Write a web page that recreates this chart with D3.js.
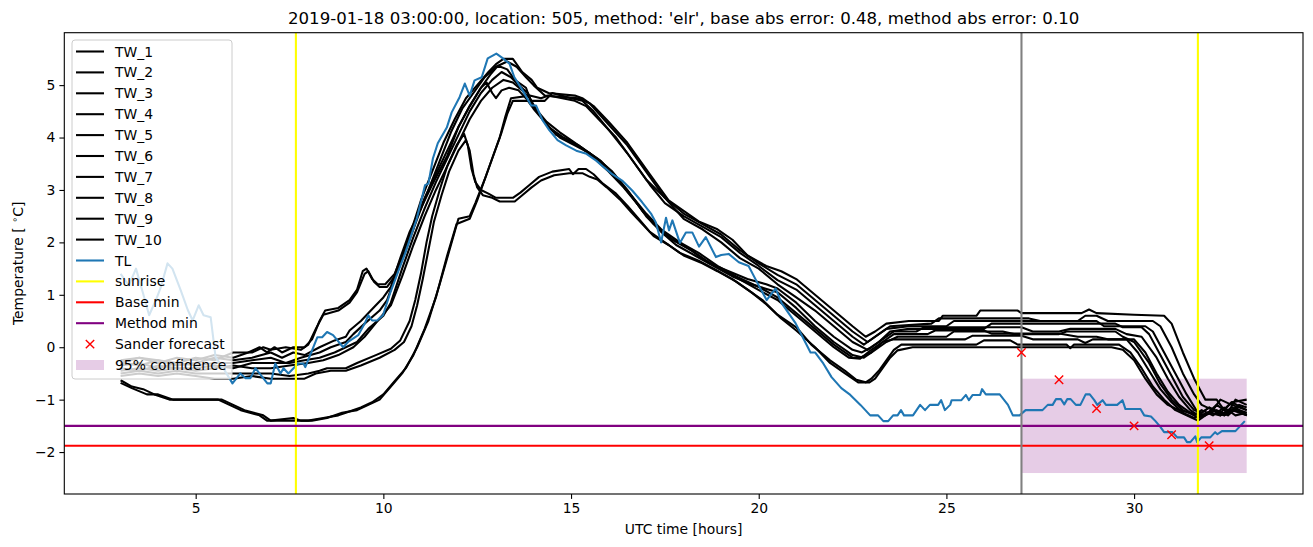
<!DOCTYPE html>
<html><head><meta charset="utf-8">
<script src="https://cdn.jsdelivr.net/npm/d3@7"></script>
<style>body{margin:0;background:#fff}svg{display:block}text{font-family:"DejaVu Sans",sans-serif}</style>
</head><body>
<svg id="c" width="1313" height="547"></svg>
<script>
const titleText = "2019-01-18 03:00:00, location: 505, method: 'elr', base abs error: 0.48, method abs error: 0.10";
const xTicks = [5,10,15,20,25,30];
const yTicks = [-2,-1,0,1,2,3,4,5];
const seriesNames = ["TW_1","TW_2","TW_3","TW_4","TW_5","TW_6","TW_7","TW_8","TW_9","TW_10"];

const tw1 = [[3,-0.25],[3.5,-0.2],[4,-0.3],[4.5,-0.2],[5,-0.25],[5.5,-0.15],[6,-0.2],[6.4,-0.1],[6.7,0.0],[6.9,-0.1],[7.1,0.0],[7.3,-0.1],[7.6,0.0],[7.9,0.0],[8.1,0.15],[8.3,0.5],[8.45,0.7],[8.8,0.75],[9.1,0.9],[9.3,1.1],[9.45,1.45],[9.55,1.5],[9.7,1.3],[9.85,1.2],[10.05,1.2],[10.3,1.4],[10.5,1.75],[10.8,2.35],[11.0,2.8],[11.3,3.35],[11.6,3.9],[11.9,4.35],[12.2,4.75],[12.5,5.0],[12.8,5.25],[13.0,5.4],[13.2,5.5],[13.45,5.5],[13.7,5.25],[13.95,5.1],[14.1,4.95],[14.4,4.85],[15.1,4.8],[15.3,4.75],[15.6,4.6],[16.0,4.3],[16.5,3.9],[17.1,3.3],[17.6,2.8],[18.0,2.6],[18.4,2.4],[18.9,2.25],[19.3,2.05],[19.7,1.75],[20.2,1.55],[20.6,1.45],[21.0,1.3],[21.5,1.0],[22.0,0.7],[22.5,0.4],[22.85,0.2],[23.1,0.3],[23.4,0.45],[24.0,0.5],[24.8,0.5],[24.9,0.6],[25.8,0.6],[25.9,0.7],[26.9,0.7],[27.0,0.65],[28.6,0.65],[28.8,0.72],[29.0,0.65],[30.0,0.62],[30.8,0.6],[31.0,0.45],[31.3,-0.1],[31.6,-0.6],[31.9,-1.0],[32.2,-1.0],[32.4,-1.2],[32.6,-1.05],[33.0,-1.0]];
const tw2 = [[3,-0.3],[3.5,-0.35],[4,-0.25],[4.5,-0.3],[5,-0.2],[5.5,-0.25],[6,-0.1],[6.5,-0.1],[6.8,0.0],[7.0,-0.05],[7.4,0.0],[7.8,-0.05],[8.0,0.05],[8.2,0.35],[8.4,0.62],[8.8,0.7],[9.1,0.85],[9.3,1.05],[9.5,1.4],[9.6,1.45],[9.75,1.25],[9.9,1.15],[10.1,1.15],[10.35,1.4],[10.6,1.85],[10.9,2.45],[11.2,3.0],[11.5,3.55],[11.8,4.1],[12.1,4.55],[12.4,4.85],[12.7,5.15],[13.0,5.35],[13.3,5.45],[13.55,5.35],[13.8,5.15],[14.0,5.0],[14.3,4.8],[15.2,4.75],[15.5,4.65],[16.0,4.25],[16.5,3.85],[17.0,3.35],[17.5,2.85],[18.0,2.55],[18.5,2.35],[19.0,2.15],[19.5,1.85],[20.0,1.6],[20.5,1.38],[21.0,1.2],[21.5,0.9],[22.0,0.6],[22.5,0.3],[22.9,0.1],[23.2,0.25],[23.5,0.4],[24.6,0.45],[24.8,0.55],[27.2,0.55],[27.5,0.5],[28.5,0.5],[28.7,0.6],[29.0,0.6],[29.3,0.5],[30.5,0.5],[30.7,0.4],[31.0,0.0],[31.3,-0.5],[31.6,-0.9],[31.8,-1.1],[32.1,-1.2],[32.3,-1.0],[32.6,-1.1],[33.0,-1.2]];
const tw3 = [[3,-0.3],[3.5,-0.2],[4,-0.25],[4.5,-0.35],[5,-0.3],[5.5,-0.2],[6,-0.25],[6.5,-0.2],[7,-0.1],[7.3,-0.2],[7.6,-0.1],[7.9,-0.15],[8.3,0.0],[8.7,0.13],[9.0,0.2],[9.1,0.32],[9.4,0.5],[9.8,0.8],[10.0,0.95],[10.2,1.15],[10.45,1.7],[10.7,2.2],[11.0,2.65],[11.3,3.1],[11.7,3.65],[12.0,4.2],[12.3,4.6],[12.6,4.95],[12.85,5.2],[13.05,5.37],[13.3,5.3],[13.5,5.1],[13.8,4.95],[13.95,4.65],[14.3,4.3],[14.6,4.05],[14.9,3.95],[15.3,3.8],[15.7,3.6],[16.1,3.35],[16.5,3.0],[16.9,2.6],[17.3,2.3],[17.7,2.05],[18.2,1.85],[18.7,1.6],[19.2,1.45],[19.7,1.3],[20.2,1.2],[20.5,1.12],[21.0,0.85],[21.5,0.5],[22.0,0.2],[22.5,-0.05],[22.75,-0.1],[23.0,0.0],[23.3,0.15],[23.6,0.3],[24.2,0.3],[24.4,0.38],[27.0,0.38],[27.3,0.3],[28.0,0.3],[28.3,0.35],[29.5,0.35],[29.8,0.25],[30.2,0.2],[30.6,-0.2],[30.9,-0.6],[31.2,-0.95],[31.5,-1.2],[31.7,-1.3],[32.0,-1.15],[32.3,-1.25],[32.6,-1.05],[33.0,-1.2]];
const tw4 = [[3,-0.35],[3.5,-0.3],[4,-0.4],[4.5,-0.3],[5,-0.35],[5.5,-0.3],[6,-0.3],[6.5,-0.25],[7,-0.2],[7.4,-0.3],[7.8,-0.2],[8.3,-0.1],[8.6,0.0],[9.0,0.1],[9.2,0.25],[9.5,0.45],[9.9,0.7],[10.1,0.9],[10.3,1.3],[10.55,1.85],[10.85,2.4],[11.1,2.85],[11.4,3.3],[11.7,3.75],[12.0,4.2],[12.3,4.6],[12.6,4.95],[12.75,5.05],[12.9,4.85],[13.0,4.75],[13.15,4.9],[13.35,4.95],[13.6,4.9],[13.8,4.75],[14.0,4.55],[14.35,4.25],[14.7,4.0],[15.1,3.85],[15.5,3.7],[15.9,3.45],[16.3,3.15],[16.7,2.8],[17.0,2.5],[17.4,2.2],[17.8,1.95],[18.3,1.75],[18.8,1.55],[19.3,1.35],[19.8,1.2],[20.5,1.05],[21.0,0.75],[21.5,0.4],[22.0,0.1],[22.5,-0.15],[22.8,-0.2],[23.1,-0.05],[23.4,0.1],[23.7,0.2],[25.0,0.2],[25.2,0.3],[26.5,0.3],[26.8,0.25],[28.0,0.25],[28.2,0.3],[29.5,0.3],[29.7,0.2],[30.0,0.1],[30.4,-0.3],[30.7,-0.7],[31.0,-1.0],[31.3,-1.2],[31.6,-1.3],[31.8,-1.2],[32.1,-1.3],[32.4,-1.15],[32.7,-1.3],[33.0,-1.25]];
const tw5 = [[3,-0.4],[3.5,-0.45],[4,-0.35],[4.5,-0.4],[5,-0.4],[5.5,-0.35],[6,-0.4],[6.5,-0.3],[7,-0.3],[7.5,-0.3],[7.9,-0.25],[8.3,-0.2],[8.7,-0.1],[9.0,0.0],[9.3,0.1],[9.6,0.35],[10.0,0.6],[10.2,0.85],[10.5,1.5],[10.8,2.1],[11.1,2.65],[11.4,3.15],[11.7,3.6],[12.0,4.05],[12.3,4.5],[12.6,4.85],[12.9,5.1],[13.15,5.25],[13.4,5.15],[13.6,5.0],[13.85,4.85],[14.0,4.6],[14.35,4.3],[14.7,4.1],[15.0,3.95],[15.4,3.75],[15.8,3.55],[16.2,3.25],[16.6,2.9],[17.0,2.55],[17.4,2.25],[17.9,2.0],[18.4,1.8],[18.9,1.55],[19.4,1.35],[20.0,1.15],[20.5,0.95],[21.0,0.65],[21.5,0.35],[22.0,0.05],[22.5,-0.2],[22.7,-0.2],[23.0,-0.1],[23.3,0.1],[23.6,0.25],[24.5,0.25],[24.7,0.32],[26.0,0.32],[26.2,0.26],[28.0,0.26],[28.5,0.2],[29.0,0.2],[29.3,0.15],[30.0,0.15],[30.3,-0.1],[30.6,-0.5],[30.9,-0.85],[31.2,-1.1],[31.5,-1.25],[31.8,-1.3],[32.1,-1.2],[32.4,-1.3],[32.7,-1.15],[33.0,-1.3]];
const tw6 = [[3,-0.45],[3.5,-0.4],[4,-0.45],[4.5,-0.4],[5,-0.45],[5.5,-0.4],[6,-0.35],[6.5,-0.4],[7,-0.4],[7.5,-0.35],[8.0,-0.3],[8.4,-0.25],[8.8,-0.15],[9.2,0.0],[9.5,0.2],[9.9,0.55],[10.2,0.8],[10.5,1.35],[10.8,1.95],[11.1,2.5],[11.4,3.0],[11.7,3.45],[12.0,3.9],[12.3,4.35],[12.6,4.7],[12.9,4.95],[13.2,5.1],[13.45,5.05],[13.7,4.9],[13.9,4.75],[14.1,4.5],[14.4,4.2],[14.8,4.0],[15.2,3.85],[15.6,3.62],[16.0,3.35],[16.4,3.05],[16.8,2.7],[17.2,2.35],[17.6,2.1],[18.1,1.9],[18.6,1.65],[19.1,1.45],[19.6,1.25],[20.1,1.05],[20.5,0.9],[21.0,0.6],[21.5,0.3],[22.0,0.0],[22.4,-0.2],[22.7,-0.22],[23.0,-0.05],[23.3,0.1],[23.6,0.15],[25.5,0.15],[25.7,0.22],[27.0,0.22],[27.3,0.15],[28.5,0.15],[28.7,0.08],[28.9,0.15],[29.8,0.15],[30.1,-0.1],[30.4,-0.45],[30.7,-0.8],[31.0,-1.05],[31.3,-1.25],[31.6,-1.35],[31.8,-1.3],[32.1,-1.2],[32.4,-1.3],[32.7,-1.2],[33.0,-1.3]];
const tw7 = [[3,-0.63],[3.3,-0.75],[3.6,-0.8],[3.9,-0.9],[4.3,-1.0],[5.6,-1.0],[5.9,-1.1],[6.2,-1.2],[6.7,-1.3],[6.9,-1.4],[8.0,-1.4],[8.4,-1.35],[8.8,-1.3],[9.0,-1.25],[9.4,-1.15],[9.7,-1.05],[10.0,-0.9],[10.3,-0.65],[10.6,-0.4],[10.9,0.0],[11.2,0.5],[11.5,1.2],[11.8,1.95],[12.0,2.45],[12.3,2.5],[12.45,2.75],[12.7,3.2],[12.9,3.6],[13.1,4.0],[13.25,4.4],[13.4,4.75],[13.9,4.8],[14.2,4.75],[14.4,4.8],[15.1,4.7],[15.4,4.6],[15.8,4.3],[16.2,4.0],[16.6,3.6],[17.1,3.1],[17.5,2.75],[18.0,2.5],[18.5,2.3],[19.0,2.1],[19.5,1.8],[20.0,1.55],[20.5,1.28],[21.0,1.1],[21.5,0.8],[22.0,0.5],[22.5,0.2],[22.8,0.05],[23.1,0.2],[23.4,0.35],[24.0,0.4],[25.0,0.4],[25.2,0.5],[29.0,0.5],[29.2,0.4],[30.3,0.4],[30.5,0.3],[30.8,-0.1],[31.1,-0.5],[31.4,-0.9],[31.7,-1.25],[31.9,-1.3],[32.2,-1.1],[32.5,-1.25],[32.7,-1.0],[33.0,-1.1]];
const tw8 = [[3,-0.68],[3.3,-0.78],[3.7,-0.9],[4.0,-0.9],[4.4,-1.0],[5.7,-1.0],[6.0,-1.1],[6.3,-1.2],[6.8,-1.3],[7.0,-1.4],[7.6,-1.35],[7.8,-1.4],[8.1,-1.4],[8.5,-1.35],[8.9,-1.25],[9.3,-1.2],[9.6,-1.1],[9.9,-1.0],[10.2,-0.75],[10.5,-0.5],[10.8,-0.15],[11.1,0.35],[11.4,0.95],[11.7,1.75],[11.95,2.35],[12.3,2.45],[12.5,2.8],[12.75,3.3],[12.95,3.7],[13.15,4.1],[13.3,4.45],[13.45,4.7],[14.3,4.7],[14.5,4.85],[15.0,4.75],[15.3,4.7],[15.6,4.5],[16.0,4.15],[16.5,3.7],[17.0,3.2],[17.5,2.85],[18.0,2.45],[18.5,2.25],[19.0,2.0],[19.5,1.7],[20.0,1.5],[20.5,1.2],[21.0,0.95],[21.5,0.7],[22.0,0.4],[22.5,0.1],[22.9,-0.05],[23.2,0.1],[23.5,0.3],[24.0,0.35],[26.0,0.35],[26.2,0.45],[29.5,0.45],[29.7,0.38],[30.2,0.38],[30.4,0.25],[30.7,-0.15],[31.0,-0.55],[31.3,-0.95],[31.6,-1.2],[31.8,-1.25],[32.0,-1.15],[32.3,-1.3],[32.6,-1.15],[33.0,-1.25]];
const tw9 = [[3,-0.5],[3.5,-0.45],[4,-0.5],[4.5,-0.45],[5,-0.5],[5.5,-0.5],[6,-0.5],[6.5,-0.5],[7,-0.5],[7.5,-0.55],[8.0,-0.5],[8.3,-0.45],[8.5,-0.4],[9.0,-0.4],[9.3,-0.3],[9.8,-0.15],[10.2,-0.03],[10.45,0.13],[10.7,0.5],[10.85,0.9],[11.0,1.4],[11.15,2.0],[11.3,2.5],[11.5,3.0],[11.7,3.45],[11.95,3.85],[12.15,4.07],[12.25,3.85],[12.35,3.4],[12.45,3.15],[12.6,3.0],[12.8,2.93],[13.0,2.85],[13.45,2.85],[13.65,2.95],[13.9,3.1],[14.15,3.25],[14.5,3.35],[14.95,3.4],[15.05,3.3],[15.2,3.4],[15.4,3.4],[15.6,3.3],[15.85,3.12],[16.2,2.93],[16.5,2.7],[16.8,2.45],[17.1,2.2],[17.5,2.0],[17.9,1.8],[18.4,1.65],[18.8,1.5],[19.3,1.3],[19.7,1.1],[20.1,0.9],[20.5,0.62],[21.0,0.38],[21.4,0.05],[21.9,-0.25],[22.3,-0.45],[22.6,-0.62],[22.85,-0.67],[23.0,-0.6],[23.2,-0.45],[23.4,-0.25],[23.6,-0.05],[23.8,0.05],[25.8,0.05],[26.0,0.13],[26.7,0.13],[26.9,0.05],[28.2,0.05],[28.3,-0.02],[28.4,0.05],[29.6,0.05],[29.9,-0.1],[30.2,-0.4],[30.5,-0.75],[30.8,-1.0],[31.1,-1.2],[31.4,-1.3],[31.7,-1.4],[31.9,-1.3],[32.2,-1.2],[32.5,-1.3],[32.8,-1.1],[33.0,-1.15]];
const tw10 = [[3,-0.55],[3.5,-0.5],[4,-0.55],[4.5,-0.5],[5,-0.55],[5.5,-0.6],[6,-0.6],[6.5,-0.55],[7,-0.6],[7.5,-0.6],[7.9,-0.6],[8.2,-0.5],[8.6,-0.45],[9.0,-0.45],[9.4,-0.35],[9.9,-0.2],[10.3,-0.05],[10.55,0.1],[10.75,0.4],[10.9,0.8],[11.05,1.3],[11.2,1.85],[11.35,2.4],[11.55,2.9],[11.75,3.35],[12.0,3.75],[12.2,3.95],[12.3,3.75],[12.4,3.3],[12.5,3.05],[12.65,2.9],[12.9,2.85],[13.1,2.78],[13.5,2.78],[13.7,2.9],[13.95,3.05],[14.2,3.18],[14.55,3.28],[14.95,3.32],[15.3,3.32],[15.5,3.25],[15.7,3.2],[15.95,3.05],[16.3,2.82],[16.6,2.58],[16.9,2.35],[17.2,2.12],[17.6,1.95],[18.0,1.75],[18.5,1.6],[18.9,1.45],[19.4,1.25],[19.8,1.05],[20.2,0.82],[20.6,0.55],[21.0,0.32],[21.5,0.0],[21.9,-0.3],[22.3,-0.5],[22.65,-0.67],[22.95,-0.67],[23.1,-0.6],[23.3,-0.4],[23.5,-0.2],[23.7,-0.06],[24.1,0.0],[29.4,0.0],[29.7,-0.05],[30.0,-0.25],[30.3,-0.6],[30.6,-0.9],[30.9,-1.1],[31.2,-1.2],[31.5,-1.25],[31.7,-1.35],[32.0,-1.25],[32.3,-1.3],[32.6,-1.2],[33.0,-1.3]];
const tl = [[3.0,1.4],[3.22,1.18],[3.41,1.5],[3.59,1.05],[3.76,0.61],[3.94,0.9],[4.07,1.14],[4.25,1.6],[4.38,1.5],[4.6,1.09],[4.79,0.71],[4.92,0.51],[5.08,0.8],[5.21,0.61],[5.4,0.57],[5.53,-0.19],[5.72,-0.38],[5.98,-0.69],[6.19,-0.5],[6.33,-0.59],[6.46,-0.59],[6.59,-0.4],[6.91,-0.69],[7.0,-0.69],[7.12,-0.31],[7.26,-0.5],[7.34,-0.4],[7.47,-0.5],[7.73,-0.31],[7.87,-0.31],[7.92,-0.38],[8.24,0.19],[8.37,0.19],[8.5,0.29],[8.66,0.23],[8.93,0.0],[9.06,0.1],[9.33,0.23],[9.51,0.46],[9.6,0.61],[9.7,0.51],[9.83,0.51],[9.99,0.61],[10.18,1.03],[10.44,1.53],[10.58,1.79],[10.89,2.45],[11.11,3.09],[11.2,3.12],[11.32,3.6],[11.45,3.89],[11.69,4.19],[11.82,4.48],[12.03,4.77],[12.17,5.03],[12.3,4.8],[12.43,5.09],[12.62,5.15],[12.78,5.51],[13.01,5.6],[13.15,5.53],[13.36,5.41],[13.49,5.15],[13.63,4.99],[13.71,4.9],[13.94,4.61],[14.07,4.61],[14.24,4.33],[14.42,4.14],[14.64,3.95],[14.87,3.85],[15.14,3.75],[15.41,3.69],[15.67,3.56],[15.88,3.43],[16.1,3.3],[16.36,3.18],[16.63,2.99],[16.89,2.77],[17.13,2.55],[17.26,2.38],[17.4,2.0],[17.53,2.47],[17.61,2.23],[17.7,2.42],[17.9,1.99],[18.06,2.19],[18.23,2.19],[18.41,1.92],[18.59,2.1],[18.86,1.72],[19.0,1.76],[19.2,1.78],[19.47,1.62],[19.73,1.55],[20.0,1.18],[20.21,0.9],[20.45,1.12],[20.61,0.84],[20.98,0.46],[21.38,-0.1],[21.5,-0.1],[21.72,-0.31],[21.94,-0.57],[22.2,-0.78],[22.44,-0.91],[22.71,-1.1],[22.97,-1.3],[23.18,-1.3],[23.32,-1.41],[23.45,-1.41],[23.58,-1.3],[23.7,-1.3],[23.79,-1.2],[23.87,-1.3],[24.11,-1.3],[24.3,-1.1],[24.43,-1.2],[24.56,-1.1],[24.78,-1.1],[24.86,-1.01],[24.96,-1.2],[25.1,-1.1],[25.14,-1.01],[25.4,-1.01],[25.52,-0.91],[25.6,-1.01],[25.7,-0.91],[25.9,-0.91],[25.95,-0.8],[26.05,-0.9],[26.42,-0.9],[26.64,-1.1],[26.77,-1.3],[26.95,-1.3],[27.11,-1.2],[27.56,-1.2],[27.7,-1.1],[27.83,-1.1],[27.92,-0.99],[28.05,-0.99],[28.14,-1.09],[28.22,-0.99],[28.31,-0.99],[28.45,-1.1],[28.57,-1.1],[28.71,-0.9],[28.82,-0.9],[28.94,-1.01],[29.02,-1.1],[29.16,-1.01],[29.25,-1.1],[29.55,-1.1],[29.69,-1.01],[29.77,-1.18],[30.17,-1.18],[30.27,-1.3],[30.45,-1.32],[30.57,-1.41],[30.7,-1.52],[30.8,-1.62],[31.02,-1.62],[31.15,-1.72],[31.33,-1.72],[31.41,-1.81],[31.5,-1.81],[31.63,-1.7],[31.68,-1.81],[31.79,-1.72],[32.03,-1.72],[32.16,-1.62],[32.22,-1.66],[32.34,-1.6],[32.7,-1.6],[32.95,-1.41]];
const sunriseTimes = [7.67, 31.7];
const forecastStart = 27;
const baseMin = -1.88;
const methodMin = -1.5;
const sanderTimes = [27, 28, 29, 30, 31, 32];
const sanderValues = [-0.1, -0.62, -1.17, -1.5, -1.67, -1.88];
const confTimes = [27, 33];
const confLower = -2.4;
const confUpper = -0.6;

const twSeries = [tw1,tw2,tw3,tw4,tw5,tw6,tw7,tw8,tw9,tw10];

const svg = d3.select("#c");
const L = 64.3, R = 1303, T = 32.7, B = 494;
const x = d3.scaleLinear().domain([1.5, 34.5]).range([L, R]);
const y = d3.scaleLinear().domain([-2.8, 6.0]).range([B, T]);

svg.append("defs").append("clipPath").attr("id","clip")
  .append("rect").attr("x",L).attr("y",T).attr("width",R-L).attr("height",B-T);
const g = svg.append("g").attr("clip-path","url(#clip)");

// confidence band
g.append("rect")
  .attr("x", x(confTimes[0])).attr("width", x(confTimes[1]) - x(confTimes[0]))
  .attr("y", y(confUpper)).attr("height", y(confLower) - y(confUpper))
  .attr("fill", "purple").attr("fill-opacity", 0.2);

const line = d3.line().x(d => x(d[0])).y(d => y(d[1]));
twSeries.forEach(s => {
  g.append("path").attr("d", line(s)).attr("fill","none")
   .attr("stroke","#000").attr("stroke-width",2.08).attr("stroke-linejoin","round");
});
g.append("path").attr("d", line(tl)).attr("fill","none")
 .attr("stroke","#1f77b4").attr("stroke-width",2.08).attr("stroke-linejoin","round");

sunriseTimes.forEach(t => {
  g.append("line").attr("x1",x(t)).attr("x2",x(t)).attr("y1",T).attr("y2",B)
   .attr("stroke","#ffff00").attr("stroke-width",2.08);
});
g.append("line").attr("x1",L).attr("x2",R).attr("y1",y(baseMin)).attr("y2",y(baseMin))
 .attr("stroke","#ff0000").attr("stroke-width",2.08);
g.append("line").attr("x1",L).attr("x2",R).attr("y1",y(methodMin)).attr("y2",y(methodMin))
 .attr("stroke","#800080").attr("stroke-width",2.08);
g.append("line").attr("x1",x(forecastStart)).attr("x2",x(forecastStart)).attr("y1",T).attr("y2",B)
 .attr("stroke","#808080").attr("stroke-width",2.08);

function xMark(sel, cx, cy, r) {
  sel.append("path").attr("d",`M${cx-r},${cy-r}L${cx+r},${cy+r}M${cx-r},${cy+r}L${cx+r},${cy-r}`)
    .attr("stroke","#ff0000").attr("stroke-width",1.4).attr("fill","none");
}
sanderTimes.forEach((t,i) => xMark(g, x(t), y(sanderValues[i]), 4.2));

// axes frame
svg.append("rect").attr("x",L).attr("y",T).attr("width",R-L).attr("height",B-T)
  .attr("fill","none").attr("stroke","#000").attr("stroke-width",1.1);

const xAxis = svg.append("g").attr("transform",`translate(0,${B})`)
  .call(d3.axisBottom(x).tickValues(xTicks).tickSize(4.9).tickPadding(4).tickFormat(d3.format("d")));
const yAxis = svg.append("g").attr("transform",`translate(${L},0)`)
  .call(d3.axisLeft(y).tickValues(yTicks).tickSize(4.9).tickPadding(4)
    .tickFormat(d => d < 0 ? "\u2212" + Math.abs(d) : String(d)));
[xAxis, yAxis].forEach(a => {
  a.select(".domain").remove();
  a.selectAll("line").attr("stroke","#000").attr("stroke-width",1.1);
  a.selectAll("text").attr("fill","#000").style("font-size","13.9px").style("font-family","DejaVu Sans");
});

svg.append("text").attr("x",(L+R)/2).attr("y",24).attr("text-anchor","middle")
  .style("font-size","16.6px").text(titleText);
svg.append("text").attr("x",(L+R)/2).attr("y",534).attr("text-anchor","middle")
  .style("font-size","13.9px").text("UTC time [hours]");
const yl = svg.append("text").attr("transform",`translate(23,${(T+B)/2}) rotate(-90)`)
  .attr("text-anchor","middle").style("font-size","13.9px");
yl.append("tspan").text("Temperature [ ");
yl.append("tspan").attr("dy",-5).style("font-size","9.7px").text("\u2218");
yl.append("tspan").attr("dy",5).text("C]");

// legend
const lg = svg.append("g");
lg.append("rect").attr("x",72).attr("y",40).attr("width",160).attr("height",339).attr("rx",3)
  .attr("fill","#fff").attr("fill-opacity",0.8).attr("stroke","#cccccc").attr("stroke-width",1);
const legendItems = seriesNames.map(n => ({label:n, type:"line", color:"#000"}))
  .concat([
    {label:"TL", type:"line", color:"#1f77b4"},
    {label:"sunrise", type:"line", color:"#ffff00"},
    {label:"Base min", type:"line", color:"#ff0000"},
    {label:"Method min", type:"line", color:"#800080"},
    {label:"Sander forecast", type:"x", color:"#ff0000"},
    {label:"95% confidence", type:"patch", color:"purple"}
  ]);
legendItems.forEach((it,i) => {
  const cy = 51.5 + i*20.9;
  if (it.type === "line") {
    lg.append("line").attr("x1",76).attr("x2",104).attr("y1",cy).attr("y2",cy)
      .attr("stroke",it.color).attr("stroke-width",2.08);
  } else if (it.type === "x") {
    xMark(lg, 90, cy, 4.2);
  } else {
    lg.append("rect").attr("x",76).attr("y",cy-5).attr("width",28).attr("height",10)
      .attr("fill",it.color).attr("fill-opacity",0.2);
  }
  lg.append("text").attr("x",115).attr("y",cy+5).style("font-size","13.9px").text(it.label);
});
</script>
</body></html>
